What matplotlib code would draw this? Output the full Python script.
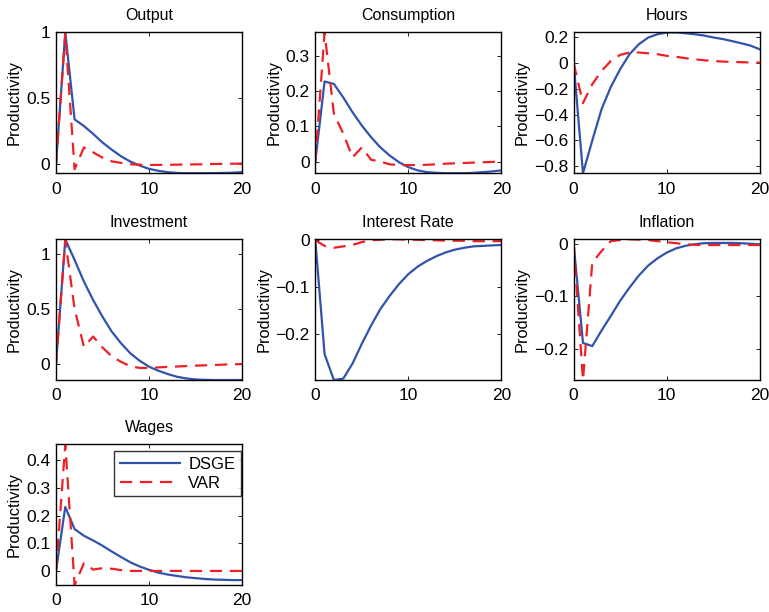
import numpy as np
import matplotlib
matplotlib.use("Agg")
import matplotlib.pyplot as plt

plt.rcParams['font.family'] = ['Liberation Sans', 'DejaVu Sans']
plt.rcParams['font.size'] = 12

# Impulse responses to a productivity shock, horizons 0..20
horizon = np.arange(21)

titles = ["Output", "Consumption", "Hours", "Investment",
          "Interest Rate", "Inflation", "Wages"]

dsge_output = [0, 1.0, 0.34, 0.29, 0.23, 0.165, 0.11, 0.06, 0.02, -0.01, -0.035,
               -0.05, -0.06, -0.066, -0.068, -0.068, -0.068, -0.067, -0.066, -0.064, -0.06]
var_output = [0, 0.99, -0.038, 0.127, 0.09, 0.05, 0.022, 0.01, 0.0, -0.004, -0.005,
              -0.005, -0.004, -0.003, -0.002, -0.001, 0.0, 0.002, 0.003, 0.004, 0.005]

dsge_cons = [0, 0.227, 0.22, 0.182, 0.14, 0.102, 0.069, 0.04, 0.017, -0.002, -0.016,
             -0.025, -0.03, -0.032, -0.033, -0.033, -0.033, -0.032, -0.03, -0.028, -0.025]
var_cons = [0, 0.366, 0.135, 0.08, 0.012, 0.04, 0.005, 0.0, -0.008, -0.01, -0.01,
            -0.01, -0.009, -0.008, -0.006, -0.005, -0.004, -0.003, -0.002, -0.001, 0.0]

dsge_hours = [0, -0.854, -0.60, -0.356, -0.183, -0.046, 0.07, 0.147, 0.199, 0.225, 0.238,
              0.239, 0.233, 0.225, 0.215, 0.2, 0.188, 0.172, 0.155, 0.137, 0.108]
var_hours = [0, -0.31, -0.163, -0.06, 0.018, 0.065, 0.083, 0.083, 0.077, 0.07, 0.057,
             0.05, 0.039, 0.031, 0.023, 0.018, 0.013, 0.01, 0.008, 0.006, 0.005]

dsge_inv = [0, 1.133, 0.945, 0.75, 0.58, 0.43, 0.294, 0.188, 0.097, 0.03, -0.024,
            -0.06, -0.09, -0.115, -0.13, -0.14, -0.143, -0.145, -0.145, -0.145, -0.144]
var_inv = [0, 1.127, 0.5, 0.157, 0.25, 0.15, 0.07, 0.02, -0.02, -0.035, -0.035,
           -0.03, -0.026, -0.022, -0.018, -0.014, -0.011, -0.008, -0.005, -0.002, 0.0]

dsge_rate = [0, -0.242, -0.297, -0.294, -0.262, -0.22, -0.181, -0.146, -0.118, -0.093, -0.072,
             -0.056, -0.044, -0.034, -0.026, -0.02, -0.016, -0.013, -0.012, -0.011, -0.01]
var_rate = [0, -0.012, -0.016, -0.013, -0.01, -0.004, 0.0, 0.001, 0.002, 0.002, 0.001,
            0.001, 0.0, 0.0, -0.001, -0.001, -0.001, -0.002, -0.002, -0.002, -0.002]

dsge_infl = [0, -0.189, -0.195, -0.165, -0.137, -0.108, -0.083, -0.06, -0.041, -0.027, -0.016,
             -0.008, -0.003, 0.0, 0.002, 0.0025, 0.0025, 0.0025, 0.002, 0.001, 0.0]
var_infl = [0, -0.26, -0.035, -0.013, 0.006, 0.008, 0.0095, 0.009, 0.008, 0.006, 0.004,
            0.002, 0.0, -0.001, -0.0015, -0.0015, -0.0015, -0.0015, -0.0015, -0.0015, -0.0015]

dsge_wages = [0, 0.231, 0.151, 0.127, 0.11, 0.091, 0.07, 0.05, 0.031, 0.016, 0.004,
              -0.006, -0.013, -0.018, -0.023, -0.026, -0.029, -0.031, -0.032, -0.033, -0.033]
var_wages = [0, 0.457, -0.051, 0.028, 0.005, 0.01, 0.008, 0.003, 0.0, 0.0, 0.0,
             0.0, 0.0, 0.0, 0.0, 0.0, 0.0, 0.0, 0.0, 0.0, 0.0]

dsge = [dsge_output, dsge_cons, dsge_hours, dsge_inv, dsge_rate, dsge_infl, dsge_wages]
var = [var_output, var_cons, var_hours, var_inv, var_rate, var_infl, var_wages]

yticks = [[0, 0.5, 1], [0, 0.1, 0.2, 0.3], [-0.8, -0.6, -0.4, -0.2, 0, 0.2],
          [0, 0.5, 1], [-0.2, -0.1, 0], [-0.2, -0.1, 0], [0, 0.1, 0.2, 0.3, 0.4]]

blue = "#3253ad"
red = "#ee2026"

fig = plt.figure(figsize=(7.69, 6.12), dpi=100)

lefts = [0.0728, 0.410, 0.746]
bottoms = [0.717, 0.379, 0.044]
w, h = 0.242, 0.230

for i, title in enumerate(titles):
    row, col = divmod(i, 3)
    ax = fig.add_axes([lefts[col], bottoms[row], w, h])
    ax.plot(horizon, dsge[i], color=blue, lw=1.6, label="DSGE")
    ax.plot(horizon, var[i], color=red, lw=1.6, ls=(0, (5.5, 3.5)), label="VAR")
    lo = min(min(dsge[i]), min(var[i]))
    hi = max(max(dsge[i]), max(var[i]))
    ax.set_xlim(0, 20)
    ax.set_ylim(lo, hi)
    ax.set_xticks([0, 10, 20])
    ax.set_yticks(yticks[i])
    ax.set_yticklabels([f"{t:g}".replace("-", "\u2212") for t in yticks[i]])
    ax.tick_params(direction="in", top=True, right=True, length=3, width=0.6,
                   labelsize=12.5)
    ax.tick_params(axis="x", pad=6)
    ax.tick_params(axis="y", pad=4)
    for s in ax.spines.values():
        s.set_linewidth(1.0)
    ax.set_title(title, fontsize=11.5, pad=9)
    ax.set_ylabel("Productivity", fontsize=11.8, labelpad=3)
    if i == 6:
        leg = ax.legend(loc="upper right", bbox_to_anchor=(0.995, 0.95),
                        fontsize=12, frameon=True, fancybox=False,
                        handlelength=3.6, borderaxespad=0.0, borderpad=0.35,
                        labelspacing=0.2, handletextpad=0.5)
        leg.get_frame().set_edgecolor("black")
        leg.get_frame().set_linewidth(1.0)

fig.savefig("out.png", dpi=100)
